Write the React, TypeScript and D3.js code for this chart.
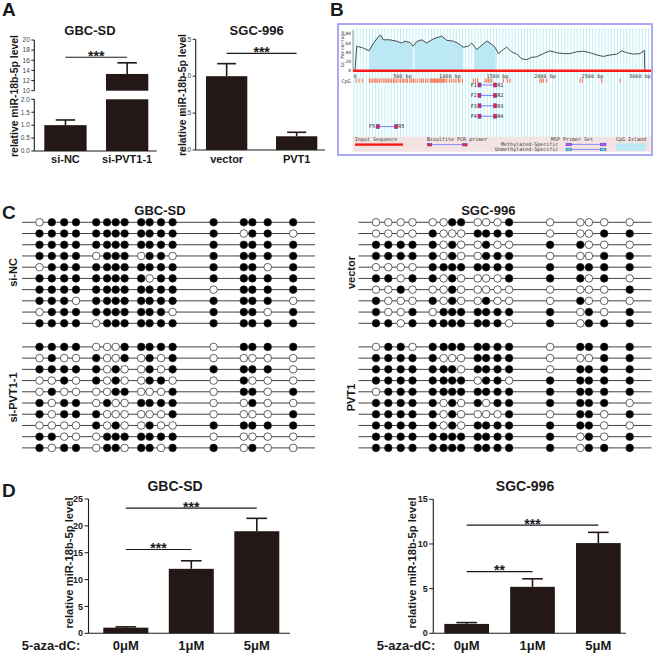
import React from "react";
import * as d3 from "d3";

const FONT = "Arial, 'Liberation Sans', Helvetica, sans-serif";
const MONO = "'DejaVu Sans Mono', 'Liberation Mono', monospace";
const BAR = "#231815";
const INK = "#1a1a1a";

// ---------- Panel A data ----------
const aGbcCats = ["si-NC", "si-PVT1-1"];
const aGbcVals = [1.0, 13.3];
const aGbcErr = [1.2, 15.5];
const aGbcTicksLow = [0, 0.5, 1.0, 1.5, 2.0];
const aGbcTicksHigh = [10, 12, 14, 16, 18, 20];
const aGbcSig = [{ from: 0, to: 1, y: 16.6, label: "***" }];

const aSgcCats = ["vector", "PVT1"];
const aSgcVals = [1.0, 0.186];
const aSgcErr = [1.17, 0.24];
const aSgcTicks = [0, 0.5, 1.0, 1.5];
const aSgcSig = [{ from: 0, to: 1, y: 1.31, label: "***" }];

// ---------- Panel D data ----------
const dCats = ["0μM", "1μM", "5μM"];
const dGbcVals = [1.05, 12.0, 19.0];
const dGbcErr = [1.2, 13.5, 21.4];
const dGbcTicks = [0, 5, 10, 15, 20, 25];
const dGbcSig = [
  { from: 0, to: 2, y: 23.3, label: "***" },
  { from: 0, to: 1, y: 15.6, label: "***" },
];
const dSgcVals = [1.05, 5.2, 10.1];
const dSgcErr = [1.2, 6.1, 11.3];
const dSgcTicks = [0, 5, 10, 15];
const dSgcSig = [
  { from: 0, to: 2, y: 12.1, label: "***" },
  { from: 0, to: 1, y: 6.9, label: "**" },
];

// ---------- Panel B data ----------
const gcBp = [0, 18, 88, 147, 193, 246, 270, 298, 368, 439, 491, 526, 579, 614, 649, 702, 754, 825, 912, 965, 1035, 1088, 1140, 1193, 1228, 1281, 1333, 1386, 1421, 1474, 1509, 1562, 1597, 1649, 1702, 1754, 1807, 1860, 1912, 1983, 2053, 2123, 2193, 2263, 2333, 2404, 2474, 2544, 2614, 2684, 2755, 2807, 2860, 2930, 3000, 3046, 3050];
const gcPct = [0, 53, 49, 43, 59, 74, 77, 67, 67, 64, 60, 64, 61, 53, 63, 67, 60, 69, 75, 66, 64, 59, 51, 53, 60, 46, 55, 64, 60, 51, 37, 46, 51, 41, 36, 26, 24, 29, 30, 37, 43, 39, 37, 37, 41, 42, 39, 34, 31, 34, 36, 43, 39, 36, 37, 44, 0];
const islandStart = [147, 625, 1253];
const islandEnd = [607, 1140, 1481];
const cpgBp = [11, 42, 77, 151, 168, 186, 204, 221, 235, 256, 274, 298, 316, 333, 351, 368, 386, 404, 421, 439, 463, 481, 502, 516, 537, 551, 579, 597, 614, 632, 656, 684, 702, 719, 744, 761, 790, 800, 811, 821, 832, 842, 853, 863, 874, 884, 895, 905, 916, 926, 937, 947, 965, 993, 1018, 1042, 1063, 1088, 1105, 1130, 1246, 1270, 1291, 1368, 1386, 1404, 1421, 1439, 1562, 1604, 1632, 1947, 1965, 1983, 2018, 2369, 2393, 2597, 2790];
const bpTicks = [0, 500, 1000, 1500, 2000, 2500, 3000];
const gcTicks = [0, 20, 40, 60, 80];
const primerF = ["F1", "F2", "F3", "F4", "F5"];
const primerR = ["R1", "R2", "R3", "R4", "R5"];
const primerStart = [1305, 1305, 1305, 1305, 235];
const primerEnd = [1481, 1481, 1481, 1481, 439];

// ---------- Panel C data ----------
const cpgSites = [17.5, 29.8, 42.2, 54, 74.2, 85.1, 93.7, 102.6, 119.2, 127.6, 139, 150.6, 191.6, 221.8, 230.4, 245.7, 271.2];
const gbcSiNC = [
  "01111111111111111",
  "11111111111110110",
  "11111111111111111",
  "11110111011011111",
  "01111111111111101",
  "11111111101111111",
  "11111111111101111",
  "11101111111111110",
  "01111111111011101",
  "11110111111111111",
];
const gbcSiPVT1 = [
  "11110001111101111",
  "01001001010100000",
  "11111010010111110",
  "00101010011001000",
  "01000011000101101",
  "10110100111100100",
  "10111000000100001",
  "00001010010011111",
  "11000111111100000",
  "10110110110110100",
];
const sgcVector = [
  "00000011000100000",
  "00001000111100011",
  "11111010010011000",
  "11111010011100011",
  "00001111111111111",
  "11011010000111010",
  "00100010000000001",
  "10001010010001000",
  "10010111111110101",
  "11011111111010111",
];
const sgcPVT1 = [
  "01101111111101111",
  "11111000111100011",
  "11111110111101111",
  "11111111011011111",
  "01111111111111111",
  "11111010101111110",
  "11111010000101101",
  "11111010111111100",
  "11111111111110101",
  "11111111111110111",
];

type Seg = { domain: [number, number]; range: [number, number]; ticks: number[]; fmt: (v: number) => string };
type Sig = { from: number; to: number; y: number; label: string };

function BarChart(p: {
  cats: string[]; vals: number[]; errs: number[]; segs: Seg[];
  bandRange: [number, number]; padIn: number; axisX: number; axisEnd: number;
  sig: Sig[]; title: string; titleX: number; titleY: number; titleSize: number;
  yLabelX: number; yLabelY: number; yLabelSize: number;
  tickSize: number; tickColor: string; tickWeight: string; tickLen: number;
  catSize: number; catY: number; sigSize: number;
}) {
  const x = d3.scaleBand<string>().domain(p.cats).range(p.bandRange).paddingInner(p.padIn).paddingOuter(0);
  const scales = p.segs.map((s) => d3.scaleLinear().domain(s.domain).range(s.range));
  const y = (v: number) => {
    for (let i = 0; i < p.segs.length; i++) {
      const s = p.segs[i];
      if (v >= s.domain[0] && v <= s.domain[1]) return scales[i](v);
    }
    return scales[scales.length - 1](v);
  };
  const base = p.segs[0].range[0];
  const bw = x.bandwidth();
  return (
    <g>
      <text x={p.titleX} y={p.titleY} fontSize={p.titleSize} fontWeight="bold" textAnchor="middle" fill={INK}>{p.title}</text>
      {p.cats.map((c, i) => (
        <g key={c}>
          {p.segs.map((s, j) => {
            if (p.vals[i] <= s.domain[0]) return null;
            const top = scales[j](Math.min(p.vals[i], s.domain[1]));
            const bot = scales[j](s.domain[0]);
            return <rect key={j} x={x(c)} y={top} width={bw} height={bot - top} fill={BAR} />;
          })}
          <line x1={x(c)! + bw / 2} x2={x(c)! + bw / 2} y1={y(p.vals[i])} y2={y(p.errs[i])} stroke={BAR} strokeWidth={1.6} />
          <line x1={x(c)! + bw * 0.27} x2={x(c)! + bw * 0.73} y1={y(p.errs[i])} y2={y(p.errs[i])} stroke={BAR} strokeWidth={1.6} />
          <text x={x(c)! + bw / 2} y={p.catY} fontSize={p.catSize} fontWeight="bold" textAnchor="middle" fill={INK}>{c}</text>
        </g>
      ))}
      {p.segs.map((s, j) => (
        <g key={j}>
          <line x1={p.axisX} x2={p.axisX} y1={s.range[0]} y2={s.range[1]} stroke={INK} strokeWidth={1.1} />
          {s.ticks.map((t) => (
            <g key={t}>
              <line x1={p.axisX - p.tickLen} x2={p.axisX} y1={scales[j](t)} y2={scales[j](t)} stroke={INK} strokeWidth={1} />
              <text x={p.axisX - p.tickLen - 1.5} y={scales[j](t)} dy="0.35em" fontSize={p.tickSize} fontWeight={p.tickWeight} textAnchor="end" fill={p.tickColor}>{s.fmt(t)}</text>
            </g>
          ))}
        </g>
      ))}
      <line x1={p.axisX} x2={p.axisEnd} y1={base} y2={base} stroke={INK} strokeWidth={1.1} />
      <text transform={`translate(${p.yLabelX},${p.yLabelY}) rotate(-90)`} fontSize={p.yLabelSize} fontWeight="bold" textAnchor="middle" fill={INK}>relative miR-18b-5p level</text>
      {p.sig.map((s, k) => {
        const xa = x(p.cats[s.from])! + bw / 2;
        const xb = x(p.cats[s.to])! + bw / 2;
        const yy = y(s.y);
        return (
          <g key={k}>
            <line x1={xa} x2={xb} y1={yy} y2={yy} stroke={INK} strokeWidth={1.2} />
            <text x={(xa + xb) / 2} y={yy + 3.5} fontSize={p.sigSize} fontWeight="bold" textAnchor="middle" fill={INK}>{s.label}</text>
          </g>
        );
      })}
    </g>
  );
}

function PanelB() {
  const xB = d3.scaleLinear().domain([0, 3000]).range([355, 640]);
  const yB = d3.scaleLinear().domain([0, 80]).range([70.7, 33.8]);
  const plotL = 353, plotR = 651, plotT = 28, plotB = 137;
  const stripes = d3.range(plotL + 1, plotR, 3.1);
  const pts = gcBp.map((b, i) => [b, gcPct[i]] as [number, number]);
  const line = d3.line<[number, number]>().x((d) => xB(d[0])).y((d) => yB(d[1]));
  const area = d3.area<[number, number]>().x((d) => xB(d[0])).y0(yB(0)).y1((d) => yB(d[1]));
  const primerY = d3.scaleLinear().domain([0, 4]).range([85, 126.6]);
  return (
    <g>
      <rect x={338} y={24} width={314} height={131} fill="#fff" stroke="#8c8cf0" strokeWidth={1.5} />
      {stripes.map((s, i) => (
        <line key={i} x1={s} x2={s} y1={plotT} y2={plotB} stroke="#bdeef5" strokeWidth={1} />
      ))}
      <defs>
        <clipPath id="islands">
          {islandStart.map((s, i) => (
            <rect key={i} x={xB(s)} y={plotT} width={xB(islandEnd[i]) - xB(s)} height={80} />
          ))}
        </clipPath>
      </defs>
      <path d={area(pts)!} fill="#bce8f6" clipPath="url(#islands)" />
      <path d={line(pts)!} fill="none" stroke="#222" strokeWidth={0.8} />
      <line x1={plotL} x2={plotL} y1={plotT + 2} y2={yB(0)} stroke="#555" strokeWidth={0.6} />
      <line x1={plotL} x2={plotR} y1={yB(0)} y2={yB(0)} stroke="#ff1a1a" strokeWidth={2.6} />
      {gcTicks.map((t) => (
        <text key={t} x={351} y={yB(t)} dy="0.35em" fontSize={4.5} fontFamily={MONO} textAnchor="end" fill="#333">{t}</text>
      ))}
      <text transform={`translate(344,49) rotate(-90)`} fontSize={4.6} fontFamily={MONO} textAnchor="middle" fill="#333">GC Percentage</text>
      {bpTicks.map((t) => (
        <text key={t} x={xB(t)} y={77.5} fontSize={5.2} fontFamily={MONO} textAnchor="middle" fill="#333">{t === 0 ? "0" : `${t} bp`}</text>
      ))}
      <text x={341.5} y={82.5} fontSize={5} fontFamily={MONO} fill="#333">CpG</text>
      {cpgBp.map((b, i) => (
        <line key={i} x1={xB(b)} x2={xB(b)} y1={78.5} y2={82.8} stroke="#ff5a2a" strokeWidth={0.9} />
      ))}
      {primerF.map((f, i) => {
        const yy = primerY(i);
        const xa = xB(primerStart[i]);
        const xb = xB(primerEnd[i]);
        return (
          <g key={f}>
            <line x1={xa} x2={xb} y1={yy} y2={yy} stroke="#7070ff" strokeWidth={0.9} />
            <rect x={xa - 1} y={yy - 2} width={3} height={4} fill="#ff2020" stroke="#4040e0" strokeWidth={0.6} />
            <rect x={xb - 2} y={yy - 2} width={3} height={4} fill="#ff2020" stroke="#4040e0" strokeWidth={0.6} />
            <text x={xa - 2} y={yy} dy="0.35em" fontSize={5.2} fontFamily={MONO} textAnchor="end" fill="#222">{f}</text>
            <text x={xb + 1.5} y={yy} dy="0.35em" fontSize={5.2} fontFamily={MONO} fill="#222">{primerR[i]}</text>
          </g>
        );
      })}
      <rect x={352.7} y={136.7} width={298} height={15} fill="#f3e3e3" />
      <text x={355} y={141.4} fontSize={5} fontFamily={MONO} fill="#333">Input Sequence</text>
      <rect x={355} y={143.4} width={48} height={2.4} fill="#ff1a1a" />
      <text x={427} y={141.4} fontSize={5} fontFamily={MONO} fill="#333">Bisulfite PCR primer</text>
      <line x1={428} x2={466} y1={144.6} y2={144.6} stroke="#7070ff" strokeWidth={0.8} />
      <rect x={427.3} y={143.4} width={4.5} height={2.6} fill="#ff2020" stroke="#4040e0" strokeWidth={0.5} />
      <rect x={462.7} y={143.4} width={4.5} height={2.6} fill="#ff2020" stroke="#4040e0" strokeWidth={0.5} />
      <text x={551} y={141.4} fontSize={5} fontFamily={MONO} fill="#333">MSP Primer Set</text>
      <text x={558.3} y={146.2} fontSize={5} fontFamily={MONO} textAnchor="end" fill="#333">Methylated-Specific</text>
      <text x={558.3} y={151} fontSize={5} fontFamily={MONO} textAnchor="end" fill="#333">Unmethylated-Specific</text>
      <line x1={568} x2={604} y1={144.4} y2={144.4} stroke="#7070ff" strokeWidth={0.8} />
      <rect x={566} y={143.2} width={5.5} height={2.6} fill="#c050f0" stroke="#4040e0" strokeWidth={0.5} />
      <rect x={600.5} y={143.2} width={5.5} height={2.6} fill="#c050f0" stroke="#4040e0" strokeWidth={0.5} />
      <line x1={568} x2={604} y1={149.4} y2={149.4} stroke="#7070ff" strokeWidth={0.8} />
      <rect x={566} y={148.2} width={5.5} height={2.6} fill="#50f0a0" stroke="#4040e0" strokeWidth={0.5} />
      <rect x={600.5} y={148.2} width={5.5} height={2.6} fill="#50f0a0" stroke="#4040e0" strokeWidth={0.5} />
      <text x={616} y={141.4} fontSize={5} fontFamily={MONO} fill="#333">CpG Island</text>
      <rect x={616} y={143.3} width={30} height={7.4} fill="#bce8f6" />
    </g>
  );
}

function Lollipop({ rows, x0, y0 }: { rows: string[]; x0: number; y0: number }) {
  const xs = d3.scaleLinear().domain([0, 293]).range([x0, x0 + 293]);
  const ys = d3.scaleLinear().domain([0, 9]).range([y0, y0 + 101]);
  return (
    <g>
      {rows.map((r, i) => (
        <g key={i}>
          <line x1={xs(0)} x2={xs(293)} y1={ys(i)} y2={ys(i)} stroke="#444" strokeWidth={1} />
          {cpgSites.map((s, j) => (
            <circle key={j} cx={xs(s)} cy={ys(i)} r={3.8} fill={r[j] === "1" ? "#000" : "#fff"} stroke="#222" strokeWidth={0.7} />
          ))}
        </g>
      ))}
    </g>
  );
}

export default function App() {
  const f1 = (v: number) => v.toFixed(1);
  const f0 = (v: number) => String(v);
  return (
    <svg width={658} height={654} style={{ position: "absolute", left: 0, top: 0 }} fontFamily={FONT}>
      <rect width={658} height={654} fill="#fff" />
      <text x={2} y={16} fontSize={19} fontWeight="bold" fill={INK}>A</text>
      <text x={330} y={16} fontSize={19} fontWeight="bold" fill={INK}>B</text>
      <text x={2} y={219} fontSize={19} fontWeight="bold" fill={INK}>C</text>
      <text x={2} y={497} fontSize={19} fontWeight="bold" fill={INK}>D</text>

      <BarChart
        cats={aGbcCats} vals={aGbcVals} errs={aGbcErr}
        segs={[
          { domain: [0, 2], range: [151, 99.3], ticks: aGbcTicksLow, fmt: f1 },
          { domain: [10, 20], range: [90.7, 40], ticks: aGbcTicksHigh, fmt: f0 },
        ]}
        bandRange={[44.3, 148.3]} padIn={0.314} axisX={34.3} axisEnd={156.7}
        sig={aGbcSig} title="GBC-SD" titleX={90} titleY={35} titleSize={13}
        yLabelX={18} yLabelY={96} yLabelSize={10.4}
        tickSize={6.5} tickColor="#444" tickWeight="normal" tickLen={3}
        catSize={11} catY={163} sigSize={14}
      />
      <BarChart
        cats={aSgcCats} vals={aSgcVals} errs={aSgcErr}
        segs={[{ domain: [0, 1.5], range: [150, 39.3], ticks: aSgcTicks, fmt: f1 }]}
        bandRange={[206, 317.3]} padIn={0.41} axisX={195.7} axisEnd={325}
        sig={aSgcSig} title="SGC-996" titleX={256.7} titleY={35} titleSize={13}
        yLabelX={186} yLabelY={95} yLabelSize={10.4}
        tickSize={6.5} tickColor="#444" tickWeight="normal" tickLen={3}
        catSize={11} catY={163} sigSize={14}
      />

      <PanelB />

      <text x={160} y={215} fontSize={13} fontWeight="bold" textAnchor="middle" fill={INK}>GBC-SD</text>
      <text x={488.3} y={215} fontSize={13} fontWeight="bold" textAnchor="middle" fill={INK}>SGC-996</text>
      <Lollipop rows={gbcSiNC} x0={22} y0={222.3} />
      <Lollipop rows={gbcSiPVT1} x0={22} y0={346.9} />
      <Lollipop rows={sgcVector} x0={358.5} y0={222.3} />
      <Lollipop rows={sgcPVT1} x0={358.5} y0={346.9} />
      <text transform="translate(17,272.5) rotate(-90)" fontSize={11} fontWeight="bold" textAnchor="middle" fill={INK}>si-NC</text>
      <text transform="translate(17,397.5) rotate(-90)" fontSize={11} fontWeight="bold" textAnchor="middle" fill={INK}>si-PVT1-1</text>
      <text transform="translate(355,272.5) rotate(-90)" fontSize={11} fontWeight="bold" textAnchor="middle" fill={INK}>vector</text>
      <text transform="translate(355,397.5) rotate(-90)" fontSize={11} fontWeight="bold" textAnchor="middle" fill={INK}>PVT1</text>

      <BarChart
        cats={dCats} vals={dGbcVals} errs={dGbcErr}
        segs={[{ domain: [0, 25], range: [633.3, 499], ticks: dGbcTicks, fmt: f0 }]}
        bandRange={[103.3, 279.3]} padIn={0.313} axisX={88.5} axisEnd={290}
        sig={dGbcSig} title="GBC-SD" titleX={175} titleY={490.7} titleSize={14}
        yLabelX={73} yLabelY={563} yLabelSize={11.2}
        tickSize={9} tickColor={INK} tickWeight="bold" tickLen={4}
        catSize={13} catY={650} sigSize={14}
      />
      <text x={51} y={650} fontSize={13} fontWeight="bold" textAnchor="middle" fill={INK}>5-aza-dC:</text>
      <BarChart
        cats={dCats} vals={dSgcVals} errs={dSgcErr}
        segs={[{ domain: [0, 15], range: [633.3, 499.3], ticks: dSgcTicks, fmt: f0 }]}
        bandRange={[444.3, 620.7]} padIn={0.321} axisX={433.3} axisEnd={626}
        sig={dSgcSig} title="SGC-996" titleX={525} titleY={490.7} titleSize={14}
        yLabelX={416} yLabelY={563} yLabelSize={11.2}
        tickSize={9} tickColor={INK} tickWeight="bold" tickLen={4}
        catSize={13} catY={650} sigSize={14}
      />
      <text x={406} y={650} fontSize={13} fontWeight="bold" textAnchor="middle" fill={INK}>5-aza-dC:</text>
    </svg>
  );
}
